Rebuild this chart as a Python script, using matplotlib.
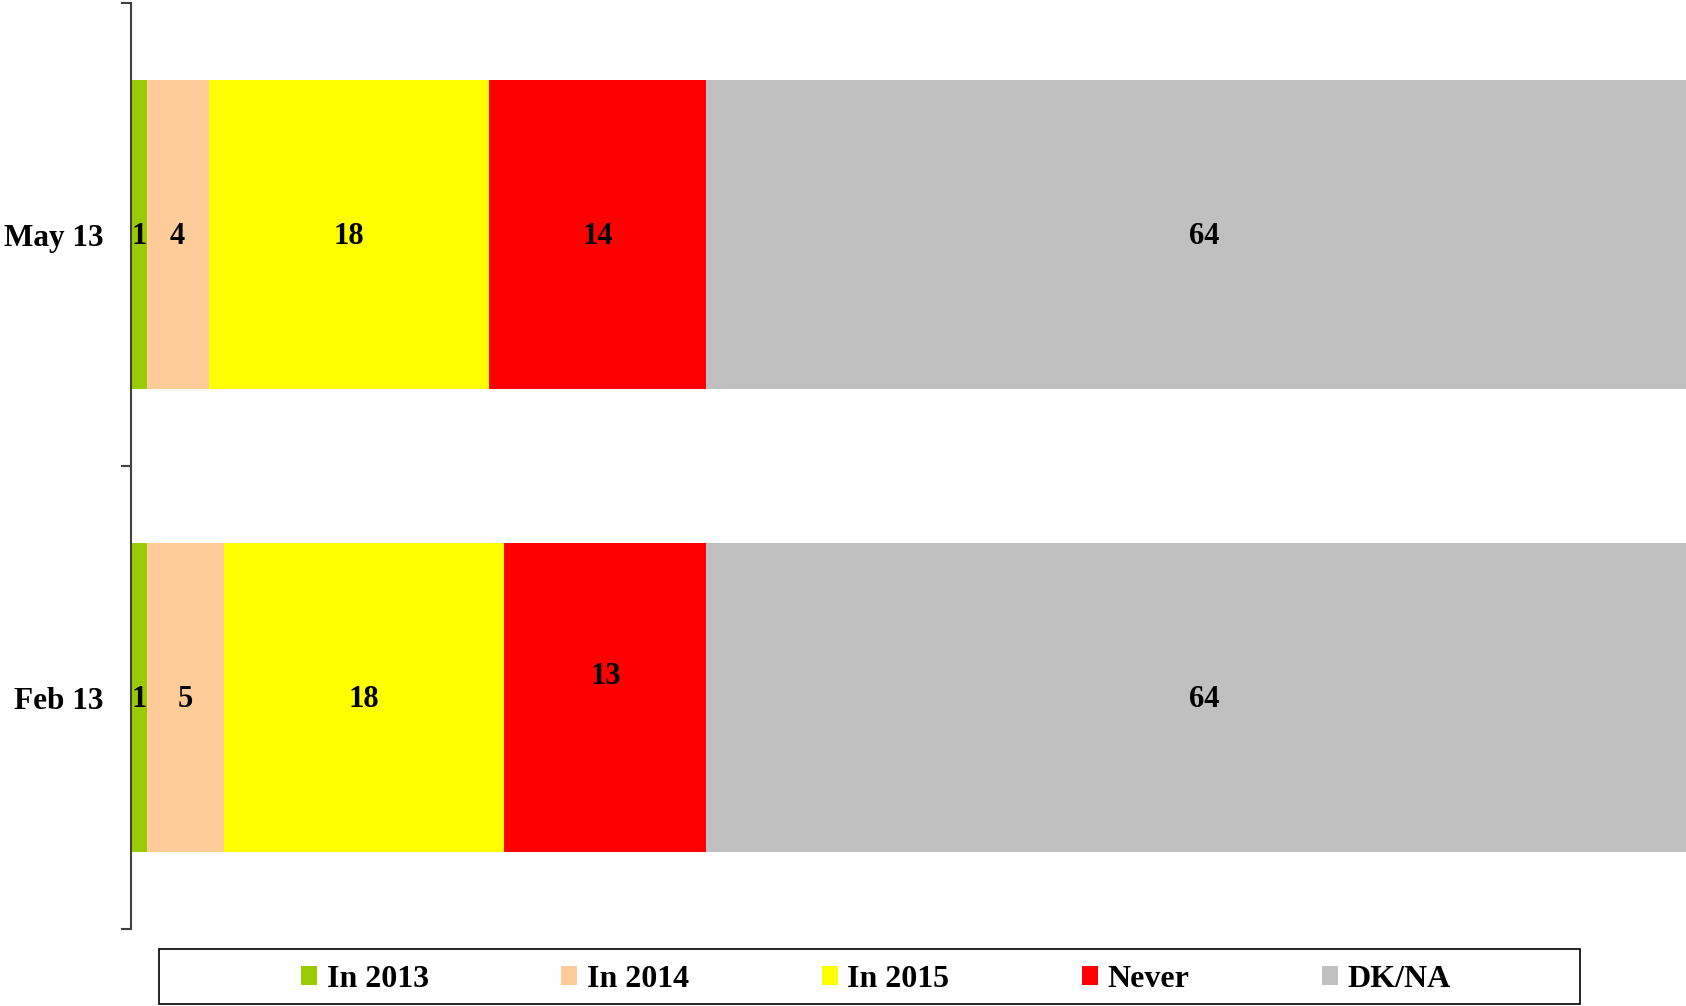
import numpy as np
import matplotlib.pyplot as plt
from matplotlib.patches import Patch, Rectangle

plt.rcParams['font.family'] = ['Liberation Serif', 'DejaVu Serif']
plt.rcParams['font.weight'] = 'bold'

periods = ['May 13', 'Feb 13']
series = ['In 2013', 'In 2014', 'In 2015', 'Never', 'DK/NA']
in_2013 = [1, 1]
in_2014 = [4, 5]
in_2015 = [18, 18]
never = [14, 13]
dk_na = [64, 64]
colors = ['#99CC00', '#FFCC99', '#FFFF00', '#FF0000', '#C0C0C0']

values = np.array([in_2013, in_2014, in_2015, never, dk_na])

fig = plt.figure(figsize=(16.86, 10.06), dpi=100)
ax = fig.add_axes([0.0777, 0.0765, 0.9223, 0.9205])

y = np.arange(len(periods)) + 0.5
left = np.zeros(len(periods))
for i, name in enumerate(series):
    ax.barh(y, values[i], left=left, height=0.666, color=colors[i], label=name)
    for j in range(len(periods)):
        dy = -0.05 if (name == 'Never' and periods[j] == 'Feb 13') else 0
        ax.text(left[j] + values[i][j] / 2, y[j] + dy + 0.004, str(values[i][j]),
                ha='center', va='center', fontsize=22, fontweight='bold')
    left += values[i]

ax.set_xlim(0, 100)
ax.set_ylim(2, 0)
for s in ['top', 'right', 'bottom']:
    ax.spines[s].set_visible(False)
ax.spines['left'].set_color('#404040')
ax.spines['left'].set_linewidth(1.5)
ax.set_xticks([])
ax.set_yticks(y)
ax.set_yticklabels(periods, fontsize=22.5, fontweight='bold')
ax.tick_params(axis='y', which='major', length=0, pad=20)
ax.set_yticks([0, 1, 2], minor=True)
ax.tick_params(axis='y', which='minor', length=7, width=1.5, color='#404040')

# legend box (drawn separately so entries stay centred inside it)
fig.patches.append(Rectangle((0.0943, 0.0015), 0.843, 0.0555, transform=fig.transFigure,
                             fill=False, edgecolor='black', linewidth=1.2))
handles = [Patch(facecolor=c, edgecolor='none') for c in colors]
leg = fig.legend(handles, series, loc='center', ncol=5,
                 bbox_to_anchor=(0.5195, 0.0265), frameon=False,
                 prop={'size': 23, 'weight': 'bold'},
                 handlelength=0.5, handleheight=0.5, handletextpad=0.3,
                 columnspacing=4.15, borderaxespad=0, borderpad=0)

fig.savefig('out.png', dpi=100)
